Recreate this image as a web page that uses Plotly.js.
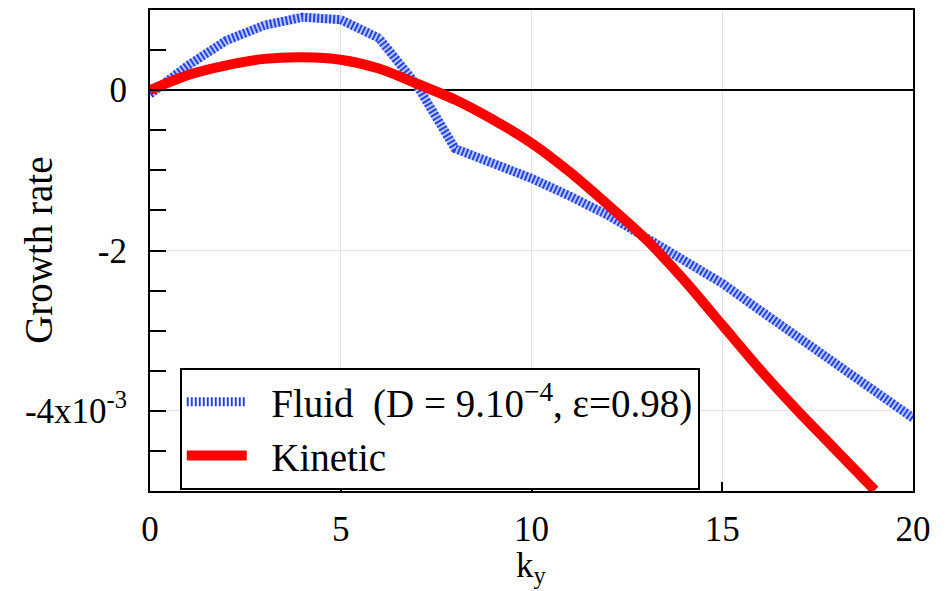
<!DOCTYPE html>
<html>
<head>
<meta charset="utf-8">
<script src="https://cdn.plot.ly/plotly-3.0.1.min.js"></script>
<style>html,body{margin:0;padding:0;background:#fff;}#chart{width:949px;height:591px;}
#fontwarm{position:absolute;left:0;top:0;color:#fff;z-index:-1;white-space:nowrap;}</style>
</head>
<body>
<div id="fontwarm"><span style="font-family:'Liberation Serif';font-size:35px">Growth k 0 5</span><span style="font-family:'Times New Roman';font-size:39px">Growth rate Fluid Kinetic D ε</span><span style="font-family:'Times New Roman';font-size:35px">k y</span></div>
<div id="chart"></div>
<script>
var kFluid = [0,1,2,3,4,5,6,7,8,9,10,11,12,13,14,15,16,17,18,19,20];
var fluidRate = [-0.05e-3,0.31e-3,0.62e-3,0.81e-3,0.91e-3,0.88e-3,0.65e-3,0.06e-3,-0.73e-3,-0.91e-3,-1.10e-3,-1.32e-3,-1.56e-3,-1.84e-3,-2.12e-3,-2.41e-3,-2.75e-3,-3.09e-3,-3.42e-3,-3.75e-3,-4.09e-3];
var kKinetic = [0,1,2,3,4,5,6,7,8,9,10,11,12,13,14,15,16,17,18,19];
var kineticRate = [0,0.19e-3,0.31e-3,0.39e-3,0.41e-3,0.38e-3,0.27e-3,0.08e-3,-0.12e-3,-0.37e-3,-0.66e-3,-1.02e-3,-1.43e-3,-1.86e-3,-2.37e-3,-2.93e-3,-3.49e-3,-4.01e-3,-4.50e-3,-4.99e-3];
var yTickVals = [-4e-3,-2e-3,0];
var yTickText = ['-4x10<sup>-3</sup>','-2','0'];
var xTickVals = [0,5,10,15,20];
var xTitle = 'k<sub>y</sub>';
var yTitle = 'Growth rate';
var fluidName = '\u2002Fluid  (D = 9.10<sup>\u22124</sup>, \u03b5=0.98)';
var kineticName = '\u2002Kinetic';

var serif = 'Liberation Serif';
var serif2 = 'Times New Roman';

function buildTraces(){
  return [
    {x:kFluid, y:fluidRate, mode:'lines', showlegend:false, hoverinfo:'skip',
     line:{color:'#b9c8f6', width:9}},
    {x:kFluid, y:fluidRate, mode:'lines', name:fluidName,
     line:{color:'#2443e0', width:9, dash:'2px,2px'}},
    {x:kKinetic, y:kineticRate, mode:'lines', name:kineticName,
     line:{color:'#ff0000', width:10, shape:'spline', smoothing:0.8}}
  ];
}

function buildLayout(){
  return {
  width:949, height:591,
  margin:{l:150, r:36, t:10, b:100},
  paper_bgcolor:'#fff', plot_bgcolor:'#fff',
  font:{family:serif, color:'#000', size:35},
  showlegend:true,
  legend:{x:0.039, y:0.256, xanchor:'left', yanchor:'top', bgcolor:'#fff',
          bordercolor:'#000', borderwidth:2, font:{family:serif2, size:39, color:'#000'},
          itemwidth:60, tracegroupgap:0},
  xaxis:{range:[0,20], tickvals:xTickVals, ticks:'inside', ticklen:9, tickwidth:1.5, tickcolor:'#000',
         showline:true, linecolor:'#000', linewidth:2, mirror:true,
         showgrid:true, gridcolor:'#e3e3e3', gridwidth:1, zeroline:false,
         ticklabelstandoff:6,
         tickfont:{family:serif, size:35}},
  yaxis:{range:[-5e-3,1e-3], tickvals:yTickVals, ticktext:yTickText, ticks:'inside', ticklen:16, tickwidth:1.5, tickcolor:'#000',
         minor:{dtick:0.5e-3, tick0:0, ticks:'inside', ticklen:16, tickwidth:1.5, tickcolor:'#000', showgrid:false},
         showline:true, linecolor:'#000', linewidth:2, mirror:true,
         showgrid:true, gridcolor:'#e3e3e3', gridwidth:1,
         zeroline:true, zerolinecolor:'#000', zerolinewidth:2,
         ticklabelstandoff:14,
         tickfont:{family:serif, size:35}},
  annotations:[
    {text:yTitle, xref:'paper', yref:'paper', x:-0.147, y:0.501, xanchor:'center', yanchor:'middle',
     textangle:-90, showarrow:false, font:{family:serif2, size:39, color:'#000'}},
    {text:xTitle, xref:'paper', yref:'paper', x:0.5, y:-0.16, xanchor:'center', yanchor:'middle',
     showarrow:false, font:{family:serif2, size:35, color:'#000'}}
  ]
  };
}

var cfg = {displayModeBar:false};
Plotly.newPlot('chart', buildTraces(), buildLayout(), cfg);
var redraw = function(){
  Plotly.purge('chart');
  Plotly.newPlot('chart', buildTraces(), buildLayout(), cfg);
};
if (document.fonts && document.fonts.load) {
  Promise.all([
    document.fonts.load('35px "Liberation Serif"'),
    document.fonts.load('39px "Times New Roman"')
  ]).then(function(){ return document.fonts.ready; }).then(function(){ setTimeout(redraw, 30); });
}
</script>
</body>
</html>
